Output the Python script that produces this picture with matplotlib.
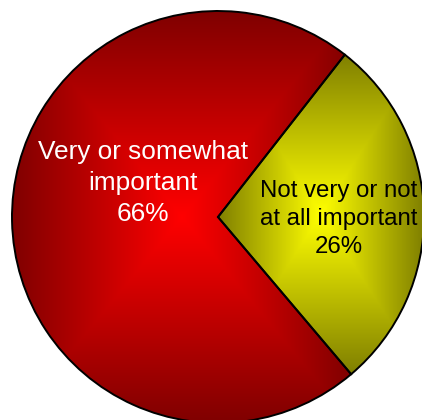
"""
Importance pie - two slices with rectangular gradient fill
"""

import numpy as np
import matplotlib
matplotlib.use('Agg')
import matplotlib.pyplot as plt

# Data
labels = ['Very or somewhat\nimportant', 'Not very or not\nat all important']
values = [66, 26]
label_colors = ['white', 'black']

# Gradient colours (edge -> centre)
EDGE_COLORS = [(0.50, 0.0, 0.0), (0.50, 0.50, 0.0)]
CENTRE_COLORS = [(1.0, 0.0, 0.0), (1.0, 1.0, 0.0)]

fig = plt.figure(figsize=(4.22, 4.20), dpi=100, facecolor='white')
ax = fig.add_axes([0, 0, 1, 1])
ax.axis('off')

RADIUS = 206
wedges, _ = ax.pie(values, radius=RADIUS, startangle=52, counterclock=True,
                   wedgeprops=dict(edgecolor='black', linewidth=1.4))

# Rectangular gradient inside each wedge, clipped to its shape
for wedge, c_edge, c_mid in zip(wedges, EDGE_COLORS, CENTRE_COLORS):
    path = wedge.get_path().transformed(wedge.get_patch_transform())
    ext = path.get_extents()
    x0, y0, x1, y1 = ext.x0, ext.y0, ext.x1, ext.y1
    n = 300
    u = np.linspace(-1, 1, n)
    uu, vv = np.meshgrid(u, u)
    t = np.maximum(np.abs(uu), np.abs(vv))
    img = np.zeros((n, n, 3))
    for k in range(3):
        img[..., k] = c_mid[k] * (1 - t) + c_edge[k] * t
    im = ax.imshow(img, extent=(x0, x1, y0, y1), origin='lower',
                   interpolation='bilinear', zorder=wedge.get_zorder())
    im.set_clip_path(wedge)
    wedge.set_facecolor('none')
    wedge.set_zorder(3)

# Slice labels
label_pos = [(-75, 34, 18.9, 1.39), (121, -2, 17.3, 1.36)]
for lab, val, col, (lx, ly, fs, ls) in zip(labels, values, label_colors, label_pos):
    ax.text(lx, ly, f'{lab}\n{val}%', ha='center', va='center', color=col,
            fontsize=fs, linespacing=ls, family='Liberation Sans', zorder=5)

ax.set_xlim(-218, 204)
ax.set_ylim(-203, 217)
ax.set_aspect('equal')

plt.savefig('out.png', dpi=100, facecolor='white')
plt.close()
